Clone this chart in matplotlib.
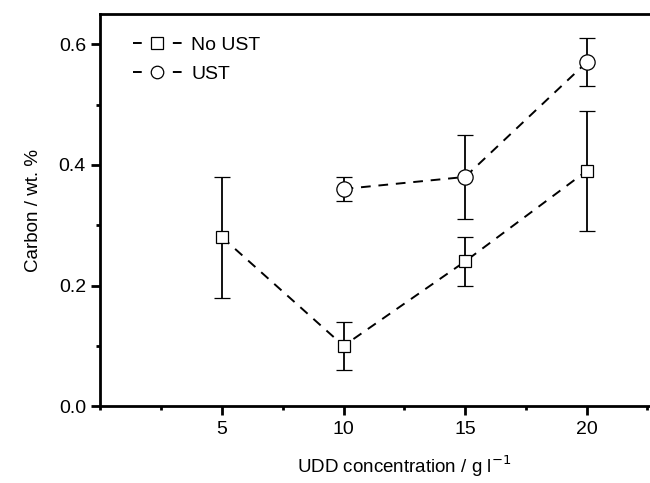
import numpy as np
import matplotlib.pyplot as plt
from matplotlib.ticker import MultipleLocator
from matplotlib.lines import Line2D

plt.rcParams['font.family'] = ['Liberation Sans', 'DejaVu Sans']

# No UST series
x_no = [5, 10, 15, 20]
y_no = [0.28, 0.10, 0.24, 0.39]
e_no = [0.10, 0.04, 0.04, 0.10]

# UST series
x_ust = [10, 15, 20]
y_ust = [0.36, 0.38, 0.57]
e_ust = [0.02, 0.07, 0.04]

fig = plt.figure(figsize=(6.5, 4.83), dpi=100)
ax = fig.add_axes([0.1546, 0.159, 0.935, 0.812])

dash = (0, (5, 4))
ax.errorbar(x_no, y_no, yerr=e_no, fmt='s', ls=dash, color='black',
            mfc='white', mec='black', ms=9, mew=0.9, lw=1.4, elinewidth=1.3,
            capsize=6, capthick=1.3)
ax.errorbar(x_ust, y_ust, yerr=e_ust, fmt='o', ls=dash, color='black',
            mfc='white', mec='black', ms=11, mew=0.9, lw=1.4, elinewidth=1.3,
            capsize=6, capthick=1.3)

ax.set_xlim(0, 25)
ax.set_ylim(0, 0.65)
ax.set_xticks([5, 10, 15, 20])
ax.set_yticks([0.0, 0.2, 0.4, 0.6])
ax.set_yticklabels(['0.0', '0.2', '0.4', '0.6'])
ax.xaxis.set_minor_locator(MultipleLocator(2.5))
ax.yaxis.set_minor_locator(MultipleLocator(0.1))
ax.tick_params(which='both', direction='out', width=2, labelsize=14)
ax.tick_params(which='major', length=6.5, pad=4)
ax.tick_params(which='minor', length=3)
for s in ax.spines.values():
    s.set_linewidth(2)

ax.set_xlabel('UDD concentration / g l$^{-1}$', fontsize=13.5, labelpad=11)
ax.set_ylabel('Carbon / wt. %', fontsize=13.5, labelpad=12)

leg_dash = (0, (4.5, 16))
handles = [
    Line2D([], [], ls=leg_dash, lw=1.4, color='black', marker='s', ms=8,
           mfc='white', mec='black', mew=0.9),
    Line2D([], [], ls=leg_dash, lw=1.4, color='black', marker='o', ms=9,
           mfc='white', mec='black', mew=0.9),
]
ax.legend(handles, ['No UST', 'UST'], loc='upper left', frameon=False,
          fontsize=14, handlelength=2.5, handletextpad=0.5, labelspacing=0.6,
          bbox_to_anchor=(0.0535, 0.943), borderpad=0, borderaxespad=0)

fig.savefig('out.png', dpi=100)
